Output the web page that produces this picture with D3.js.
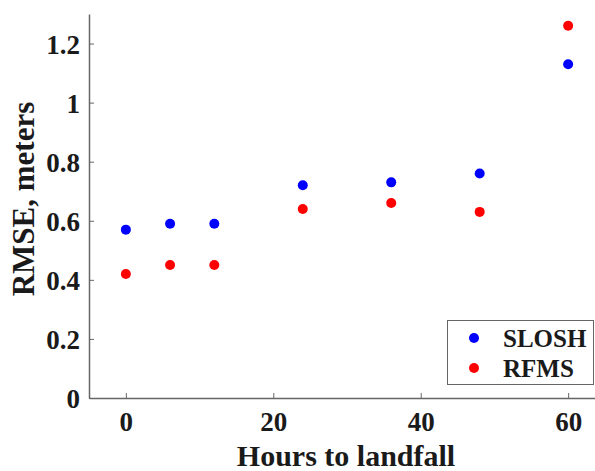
<!DOCTYPE html>
<html>
<head>
<meta charset="utf-8">
<script src="https://cdn.jsdelivr.net/npm/d3@7"></script>
<style>
	body { margin: 0; background: #fff; }
	svg text { font-family: "Liberation Serif", "Times New Roman", serif; font-weight: bold; fill: #1a1a1a; }
</style>
</head>
<body>
<svg id="graph" width="595" height="471"></svg>
<script>
// data
var hours      = [ 0, 6, 12, 24, 36, 48, 60 ];
var slosh_rmse = [ 0.57, 0.59, 0.59, 0.72, 0.73, 0.76, 1.13 ];
var rfms_rmse  = [ 0.42, 0.45, 0.45, 0.64, 0.66, 0.63, 1.26 ];
var x_ticks    = [ 0, 20, 40, 60 ];
var y_ticks    = [ 0, 0.2, 0.4, 0.6, 0.8, 1, 1.2 ];
var series_names  = [ "SLOSH", "RFMS" ];
var series_colors = [ "#0000ff", "#ff0000" ];

var svg = d3.select( "#graph" );

var margin = { top : 14, left : 89, bottom : 73 };

var x = d3.scaleLinear().domain([ -5, 65 ]).range([ margin.left, margin.left + 516 ]);
var y = d3.scaleLinear().domain([ 0, 1.3 ]).range([ 471 - margin.bottom, margin.top ]);

var axis_color = "#666";

// Add the X Axis
var gx = svg.append( "g" )
	.attr( "transform", "translate(0," + y( 0 ) + ")" )
	.call( d3.axisBottom( x ).tickValues( x_ticks ).tickSizeInner( -5 ).tickSizeOuter( 0 ).tickPadding( 14 ).tickFormat( d3.format( "d" ) ) );

// Add the Y Axis
var gy = svg.append( "g" )
	.attr( "transform", "translate(" + x( -5 ) + ",0)" )
	.call( d3.axisLeft( y ).tickValues( y_ticks ).tickSizeInner( -5 ).tickSizeOuter( 0 ).tickPadding( 9 ).tickFormat( function(d){ return d3.format( "~g" )( d ); } ) );

[ gx, gy ].forEach(function( g ){
	g.select( ".domain" ).attr( "stroke", axis_color ).attr( "stroke-width", 1.5 );
	g.selectAll( ".tick line" ).attr( "stroke", axis_color );
	g.selectAll( ".tick text" ).style( "font-size", "27px" ).attr( "fill", "#1a1a1a" );
});
gy.selectAll( ".tick text" ).attr( "dy", "0.36em" );

// axis titles
svg.append( "text" )
	.attr( "x", 346 )
	.attr( "y", 466 )
	.attr( "text-anchor", "middle" )
	.style( "font-size", "30px" )
	.text( "Hours to landfall" );

svg.append( "text" )
	.attr( "transform", "translate(34,199) rotate(-90)" )
	.attr( "text-anchor", "middle" )
	.style( "font-size", "31px" )
	.text( "RMSE, meters" );

// points
var all_series = [ slosh_rmse, rfms_rmse ];
all_series.forEach(function( vals, i ){
	svg.append( "g" )
		.selectAll( "circle" )
		.data( vals )
		.enter()
		.append( "circle" )
			.attr( "cx", function(d, j){ return x( hours[ j ] ); } )
			.attr( "cy", function(d){ return y( d ); } )
			.attr( "r", 5 )
			.style( "fill", series_colors[ i ] );
});

// legend
var legend = svg.append( "g" ).attr( "transform", "translate(447,320)" );
legend.append( "rect" )
	.attr( "x", 0.5 ).attr( "y", 0.5 )
	.attr( "width", 146 ).attr( "height", 64 )
	.attr( "fill", "#fff" )
	.attr( "stroke", axis_color );
series_names.forEach(function( name, i ){
	legend.append( "circle" )
		.attr( "cx", 27 )
		.attr( "cy", 18 + i * 30 )
		.attr( "r", 5 )
		.style( "fill", series_colors[ i ] );
	legend.append( "text" )
		.attr( "x", 56 )
		.attr( "y", 18 + i * 30 )
		.attr( "dy", "0.35em" )
		.style( "font-size", "25px" )
		.text( name );
});
</script>
</body>
</html>
